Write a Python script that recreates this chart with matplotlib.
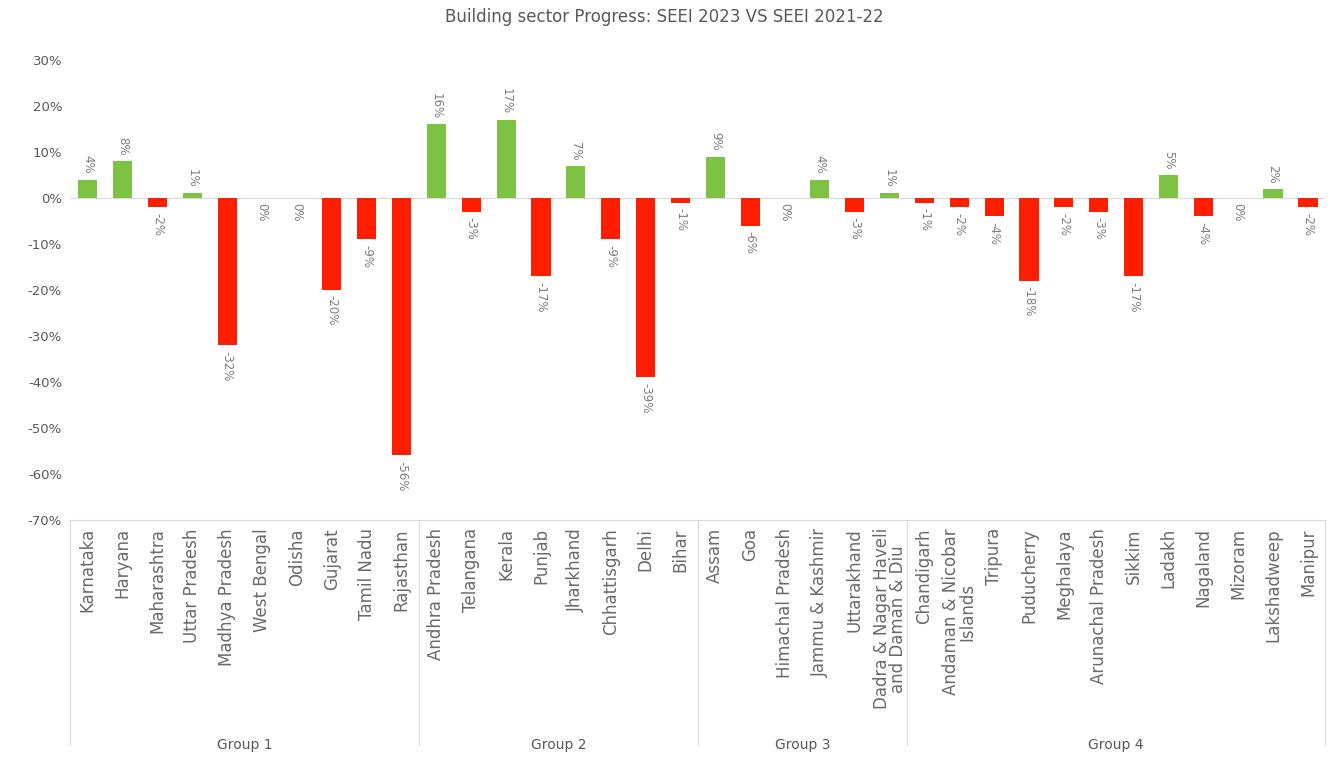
import numpy as np
import matplotlib
matplotlib.use("Agg")
import matplotlib.pyplot as plt

plt.rcParams['font.family'] = ['DejaVu Sans']

# Data (percentage change)
states = ["Karnataka", "Haryana", "Maharashtra", "Uttar Pradesh", "Madhya Pradesh",
          "West Bengal", "Odisha", "Gujarat", "Tamil Nadu", "Rajasthan",
          "Andhra Pradesh", "Telangana", "Kerala", "Punjab", "Jharkhand",
          "Chhattisgarh", "Delhi", "Bihar",
          "Assam", "Goa", "Himachal Pradesh", "Jammu & Kashmir", "Uttarakhand",
          "Dadra & Nagar Haveli\nand Daman & Diu",
          "Chandigarh", "Andaman & Nicobar\nIslands", "Tripura", "Puducherry",
          "Meghalaya", "Arunachal Pradesh", "Sikkim", "Ladakh", "Nagaland",
          "Mizoram", "Lakshadweep", "Manipur"]
change = [4, 8, -2, 1, -32, 0, 0, -20, -9, -56,
          16, -3, 17, -17, 7, -9, -39, -1,
          9, -6, 0, 4, -3, 1,
          -1, -2, -4, -18, -2, -3, -17, 5, -4, 0, 2, -2]
groups = ["Group 1", "Group 2", "Group 3", "Group 4"]
group_sizes = [10, 8, 6, 12]

green = "#7dc242"
red = "#ff1e00"
grey = "#595959"

fig = plt.figure(figsize=(13.28, 7.6), dpi=100)
ax = fig.add_axes([0.053, 0.316, 0.945, 0.605])

x = np.arange(len(states))
colors = [green if v > 0 else red for v in change]
ax.bar(x, change, width=0.55, color=colors)

# data labels, rotated
for xi, v in zip(x, change):
    if v > 0:
        ax.text(xi, v + 1.2, f"{v}%", rotation=270, ha="center", va="bottom",
                fontsize=8.5, color="#7f7f7f")
    else:
        ax.text(xi, min(v, 0) - 1.2, f"{v}%", rotation=270, ha="center",
                va="top", fontsize=8.5, color="#7f7f7f")

ax.axhline(0, color="#d9d9d9", lw=0.8, zorder=0)
ax.set_xlim(-0.5, len(states) - 0.5)
ax.set_ylim(-70, 30)
ax.set_yticks(range(-70, 31, 10))
ax.set_yticklabels([f"{t}%" for t in range(-70, 31, 10)], fontsize=9.5,
                   color=grey)
ax.set_xticks(x)
ax.set_xticklabels(states, rotation=90, fontsize=12, color="#6a6a6a",
                   va="top", linespacing=0.85)
ax.tick_params(axis="both", length=0, pad=6)

for s in ["top", "right", "left"]:
    ax.spines[s].set_visible(False)
ax.spines["bottom"].set_color("#d9d9d9")

# group separators and group names below the category labels
tr = ax.get_xaxis_transform()
bounds = np.concatenate([[0], np.cumsum(group_sizes)]) - 0.5
for b in bounds:
    ax.plot([b, b], [0, -0.49], transform=tr, color="#d9d9d9", lw=0.8,
            clip_on=False)
for g, lo, hi in zip(groups, bounds[:-1], bounds[1:]):
    ax.text((lo + hi) / 2, -0.475, g, transform=tr, ha="center", va="top",
            fontsize=10, color=grey)

fig.suptitle("Building sector Progress: SEEI 2023 VS SEEI 2021-22",
             y=0.99, fontsize=12, color=grey)

fig.savefig("out.png", dpi=100)
